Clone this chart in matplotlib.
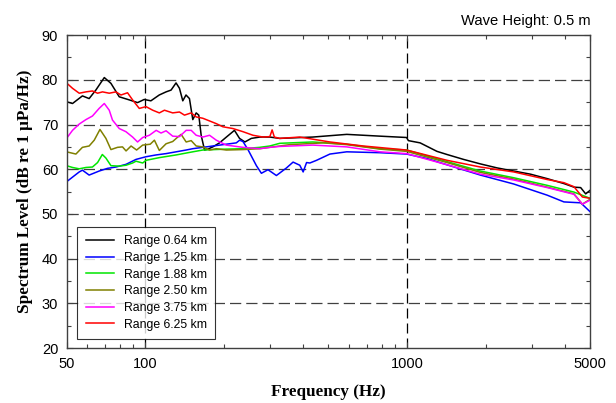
import numpy as np
import matplotlib
matplotlib.use('agg')
import matplotlib.pyplot as plt
from matplotlib.ticker import FixedLocator, NullFormatter

# 数据：各距离的频谱级（从图上读取的关键点）
freq_064 = [50, 52.7, 57.5, 61, 64.7, 69.7, 73.9, 79.5, 86.9, 93.4, 99, 105, 113, 120, 125.4,
            131, 135, 139, 143, 147.4, 151.8, 156.4, 160, 163.4, 168.3, 173.3, 181, 192, 204,
            219, 229, 240, 254, 274, 299, 326, 436, 588, 788, 995, 1011, 1121, 1300, 1420,
            1643, 1904, 2207, 2555, 2960, 3430, 3971, 4337, 4601, 4808, 5000]
lvl_064 = [75.1, 74.7, 76.4, 75.8, 77.7, 80.5, 79.2, 76.2, 75.5, 74.9, 75.6, 75.3, 76.6, 77.3, 77.7,
           79.3, 78.1, 75.3, 76.6, 75.8, 71.1, 72.6, 72.1, 67.6, 64.3, 64.5, 65.0, 65.9, 67.2,
           68.7, 66.9, 66.1, 66.9, 67.2, 67.2, 66.9, 67.2, 67.8, 67.4, 67.1, 66.4, 65.9, 64.0, 63.3,
           62.2, 61.2, 60.3, 59.6, 58.9, 57.9, 56.8, 56.0, 55.9, 54.5, 55.3]

freq_125 = [50, 55.9, 57.5, 61, 66.6, 71.7, 77.2, 84.4, 92.1, 100.6, 109.9, 120, 131.1, 143.2,
            151.8, 165.8, 181.1, 203.8, 222.6, 229.2, 236, 246.6, 265.6, 277.5, 294.1, 316.7,
            346.1, 366.7, 389, 400.7, 412.9, 425, 450.8, 507, 588, 788, 995, 1190, 1420, 1904,
            2555, 3430, 3971, 4601, 5000]
lvl_125 = [57.2, 59.4, 59.8, 58.7, 59.6, 60.2, 60.5, 61.1, 62.2, 62.8, 63.2, 63.5, 63.9, 64.3,
           64.6, 64.9, 65.2, 65.6, 65.9, 66.5, 66.2, 64.4, 60.8, 59.1, 59.9, 58.6,
           60.3, 61.6, 60.9, 59.4, 61.5, 61.4, 62.0, 63.4, 63.9, 63.7, 63.4, 62.4, 61.0, 58.7,
           56.7, 54.2, 52.7, 52.5, 50.5]

freq_188 = [50, 52.7, 55.9, 59.3, 62.8, 65.7, 68.5, 70.7, 73.9, 79.5, 84.4, 89.4, 92.1, 97.7,
            100.6, 106.7, 113.1, 131.1, 151.8, 165.8, 203.8, 236, 273.5, 298.7, 326, 436, 588,
            788, 995, 1420, 1904, 2555, 3430, 4337, 5000]
lvl_188 = [60.8, 60.4, 60.1, 60.4, 60.5, 61.5, 63.3, 62.5, 60.8, 60.7, 60.9, 61.4, 61.8, 61.4,
           62.0, 62.3, 62.6, 63.2, 63.9, 64.3, 64.5, 64.6, 64.9, 65.2, 65.8, 66.1, 65.6,
           64.6, 64.3, 61.7, 59.6, 58.1, 56.4, 54.9, 53.5]

freq_250 = [50, 54.3, 57.5, 61, 63.8, 67.1, 70.7, 73.9, 78.3, 81.8, 84.4, 88.2, 92.6, 97.7,
            104.4, 108.3, 113.1, 120, 127.2, 133, 137, 143.2, 149.7, 156.4, 165.8, 175.9, 186.6,
            203.8, 236, 273.5, 298.7, 356, 478, 588, 788, 995, 1420, 1904, 2555, 3430, 4337,
            4670, 5000]
lvl_250 = [63.9, 63.4, 64.9, 65.2, 66.5, 68.9, 66.9, 64.4, 64.9, 65.0, 64.1, 65.2, 64.3, 65.4,
           65.6, 66.5, 64.2, 65.7, 66.2, 67.2, 67.8, 66.1, 66.4, 65.2, 65.0, 64.3, 64.6,
           64.3, 64.4, 64.6, 64.9, 65.5, 65.9, 65.5, 64.5, 64.0, 61.5, 59.3, 57.8, 56.0, 54.5,
           52.2, 53.3]

freq_375 = [50, 52.7, 55.9, 59.3, 62.8, 66.6, 69.7, 72.8, 74.9, 79.5, 84.3, 89.4, 93.4, 97.7,
            103.6, 110, 114.8, 120, 127.2, 135, 143.2, 149.7, 156.4, 165.8, 175.9, 186.6, 203.8,
            236, 273.5, 298.7, 326, 436, 588, 788, 995, 1420, 1904, 2555, 3430, 4337, 4670, 5000]
lvl_375 = [66.9, 68.7, 70.1, 71.1, 71.9, 73.6, 74.7, 73.2, 71.0, 69.1, 68.4, 67.2, 66.1, 67.1,
           67.6, 68.7, 68.1, 68.6, 67.4, 67.3, 68.7, 68.7, 67.6, 67.2, 67.6, 66.5, 65.4,
           64.9, 64.6, 64.9, 65.1, 65.4, 65.0, 63.9, 63.5, 61.0, 58.9, 57.6, 55.9, 54.4, 52.2, 53.1]

freq_625 = [50, 52.7, 55.9, 59.3, 62.8, 65.7, 68.6, 72.8, 77.2, 80.7, 85.5, 89.4, 94.8, 100.6,
            106.7, 113.1, 118.3, 127.2, 135, 141.1, 149.7, 156.4, 165.8, 175.9, 186.6, 197.8,
            216.1, 236, 257.7, 281.4, 299, 305, 311, 326, 389, 507, 680, 995, 1420, 1904, 2555,
            3430, 3971, 4337, 4670, 5000]
lvl_625 = [79.3, 78.1, 77.0, 77.3, 77.5, 77.0, 77.3, 77.0, 77.3, 76.6, 77.1, 75.5, 73.6, 74.0,
           73.2, 72.6, 73.2, 72.6, 72.8, 72.1, 72.6, 71.7, 71.4, 70.8, 70.2, 69.5,
           69.1, 68.4, 67.6, 67.2, 67.3, 68.8, 67.2, 66.9, 67.2, 66.1, 65.2, 64.3, 62.0, 60.5, 59.4,
           57.7, 57.0, 56.1, 53.8, 53.5]

labels = ['Range 0.64 km', 'Range 1.25 km', 'Range 1.88 km',
          'Range 2.50 km', 'Range 3.75 km', 'Range 6.25 km']
colors = ['#000000', '#0000ff', '#00e600', '#808000', '#ff00ff', '#ff0000']

series = [(freq_064, lvl_064), (freq_125, lvl_125), (freq_188, lvl_188),
          (freq_250, lvl_250), (freq_375, lvl_375), (freq_625, lvl_625)]

sans = ['Liberation Sans', 'DejaVu Sans']
serif = ['Liberation Serif', 'DejaVu Serif']

fig = plt.figure(figsize=(6.16, 4.03), dpi=100)
ax = fig.add_axes([0.108, 0.136, 0.850, 0.777])

for (f, l), c, lab in zip(series, colors, labels):
    ax.plot(f, l, color=c, lw=1.1, label=lab)

ax.set_xscale('log')
ax.set_xlim(50, 5000)
ax.set_ylim(20, 90)

ax.xaxis.set_major_locator(FixedLocator([50, 100, 1000, 5000]))
ax.set_xticklabels(['50', '100', '1000', '5000'])
ax.xaxis.set_minor_locator(FixedLocator([60, 70, 80, 90, 200, 300, 400, 500, 600, 700, 800, 900,
                                         2000, 3000, 4000]))
ax.xaxis.set_minor_formatter(NullFormatter())
ax.set_yticks(np.arange(20, 91, 10))
ax.set_yticks(np.arange(25, 90, 10), minor=True)

ax.tick_params(which='both', direction='in', top=True, right=True, color='#404040')
ax.tick_params(which='major', length=4.5, width=0.8, labelsize=10.5, pad=6)
ax.tick_params(which='minor', length=3, width=0.8)
for t in ax.get_xticklabels() + ax.get_yticklabels():
    t.set_family(sans)

for s in ax.spines.values():
    s.set_color('#404040')
    s.set_linewidth(1.0)

# 网格线
for v in [100, 1000]:
    ax.axvline(v, color='black', lw=0.9, dashes=(8, 4), zorder=0)
for h in range(30, 90, 10):
    ax.axhline(h, color='#404040', lw=0.9, dashes=(9, 4), zorder=0)

ax.set_xlabel('Frequency (Hz)', family=serif, fontweight='bold', fontsize=12.3, labelpad=10)
ax.set_ylabel('Spectrum Level (dB re 1 μPa/Hz)', family=serif, fontweight='bold', fontsize=12.3,
              labelpad=6)

ax.text(1.0, 1.022, 'Wave Height: 0.5 m', transform=ax.transAxes, ha='right', va='bottom',
        family=sans, fontsize=10.6)

leg = ax.legend(loc='upper left', bbox_to_anchor=(0.0203, 0.3875), borderaxespad=0,
                prop={'family': sans, 'size': 8.8}, fancybox=False, frameon=True,
                handlelength=2.3, labelspacing=0.38, borderpad=0.7, handletextpad=0.8)
leg.get_frame().set_edgecolor('black')
leg.get_frame().set_linewidth(0.8)

plt.savefig('out.png', dpi=100)
